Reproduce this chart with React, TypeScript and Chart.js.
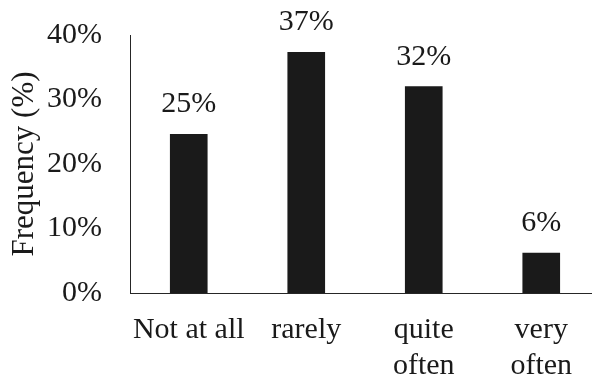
import React, { useEffect, useRef } from "react";
import { Chart, registerables } from "chart.js";

Chart.register(...registerables);

const categories: (string | string[])[] = ["Not at all", "rarely", ["quite", "often"], ["very", "often"]];
const frequency: number[] = [24.6, 37.3, 32.0, 6.2];
const labelValues: number[] = [25, 37, 32, 6];
const yTicks: number[] = [0, 10, 20, 30, 40];

const FONT = "'Liberation Serif', 'Times New Roman', serif";
const INK = "#1a1a1a";

const valueLabels = {
  id: "valueLabels",
  afterDatasetsDraw(chart: any) {
    const ctx = chart.ctx;
    const meta = chart.getDatasetMeta(0);
    ctx.save();
    ctx.font = `30px ${FONT}`;
    ctx.fillStyle = INK;
    ctx.textAlign = "center";
    ctx.textBaseline = "alphabetic";
    meta.data.forEach((bar: any, i: number) => {
      ctx.fillText(`${labelValues[i]}%`, bar.x, bar.y - 22);
    });
    ctx.restore();
  },
};

export default function App() {
  const ref = useRef<HTMLCanvasElement | null>(null);
  useEffect(() => {
    if (!ref.current) return;
    const chart = new Chart(ref.current, {
      type: "bar",
      data: {
        labels: categories,
        datasets: [
          {
            data: frequency,
            backgroundColor: INK,
            borderWidth: 0,
            barThickness: 37,
          },
        ],
      },
      plugins: [valueLabels],
      options: {
        animation: false,
        responsive: false,
        maintainAspectRatio: false,
        layout: { padding: { top: 27, left: 0, right: 0, bottom: 0 } },
        plugins: {
          legend: { display: false },
          tooltip: { enabled: false },
        },
        scales: {
          x: {
            grid: { display: false, drawTicks: false },
            border: { display: true, color: "#262626", width: 1 },
            ticks: {
              color: INK,
              font: { family: FONT, size: 30, lineHeight: 1.2 },
              padding: 19,
              maxRotation: 0,
              autoSkip: false,
            },
            afterFit(scale: any) {
              scale.height = 87;
              scale.paddingLeft = 0;
              scale.paddingRight = 0;
            },
          },
          y: {
            min: 0,
            max: 40,
            grid: { display: false, drawTicks: false },
            border: { display: true, color: "#262626", width: 1 },
            afterBuildTicks(scale: any) {
              scale.ticks = yTicks.map((v) => ({ value: v }));
            },
            ticks: {
              color: INK,
              font: { family: FONT, size: 30 },
              padding: 28,
              callback: (v: any) => `${v}%`,
            },
            title: {
              display: true,
              text: "Frequency (%)",
              color: INK,
              font: { family: FONT, size: 31, lineHeight: 1.0 },
              padding: { top: 1, bottom: 0 },
            },
            afterFit(scale: any) {
              scale.width = 122;
              scale.paddingTop = 0;
              scale.paddingBottom = 0;
            },
          },
        },
      },
    });
    return () => chart.destroy();
  }, []);
  return (
    <div style={{ width: 592, height: 372 }}>
      <canvas ref={ref} width={592} height={372} style={{ display: "block" }} />
    </div>
  );
}
